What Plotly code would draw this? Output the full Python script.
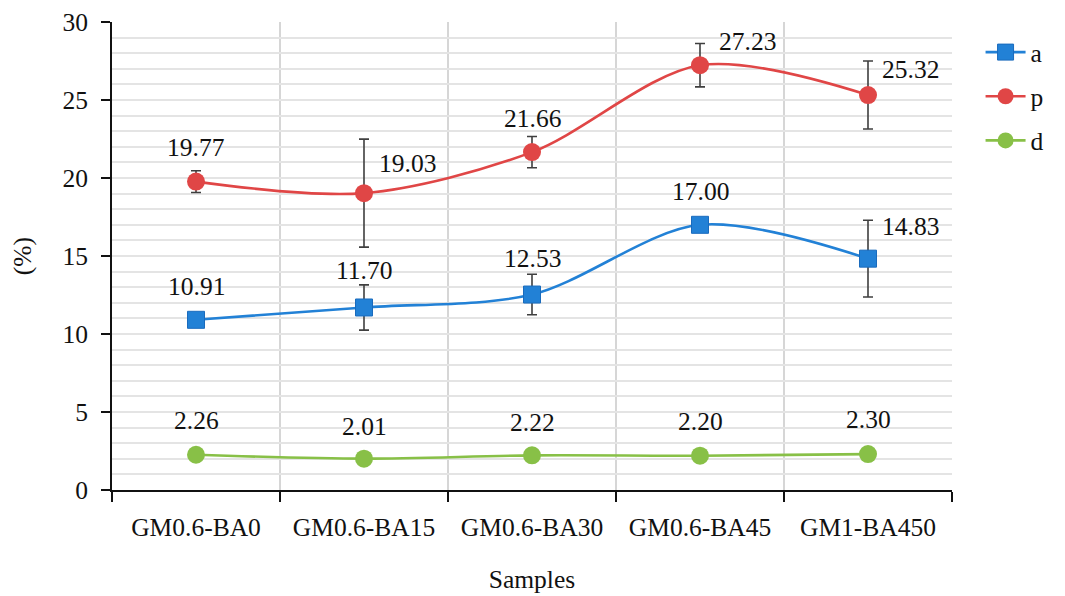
import plotly.graph_objects as go

categories = ["GM0.6-BA0", "GM0.6-BA15", "GM0.6-BA30", "GM0.6-BA45", "GM1-BA450"]
a_vals = [10.91, 11.70, 12.53, 17.00, 14.83]
a_err = [0.0, 1.45, 1.3, 0.0, 2.46]
p_vals = [19.77, 19.03, 21.66, 27.23, 25.32]
p_err = [0.7, 3.46, 1.0, 1.39, 2.18]
d_vals = [2.26, 2.01, 2.22, 2.20, 2.30]
y_ticks = [0, 5, 10, 15, 20, 25, 30]

FONT = "Liberation Serif, Tinos, Times New Roman, DejaVu Serif, serif"
BLUE = "#2281d6"
BLUE_EDGE = "#1a6bbd"
RED = "#e04646"
GREEN = "#88c047"
ERR = "#3f3f3f"
TXT = "#111111"
FS = 25.5

xs = list(range(len(categories)))

fig = go.Figure()

def add_series(name, vals, color, symbol, size, edge=None, err=None):
    kw = {}
    if err is not None:
        kw["error_y"] = dict(type="data", array=err, visible=True, color=ERR,
                             thickness=1.6, width=5)
    fig.add_trace(go.Scatter(
        x=xs, y=vals, name=name, legendgroup=name, mode="lines+markers",
        line=dict(color=color, width=2.6, shape="spline", smoothing=0.9),
        marker=dict(symbol=symbol, size=size, color=color,
                    line=dict(width=1 if edge else 0, color=edge or color)),
        **kw))

add_series("a", a_vals, BLUE, "square", 17, BLUE_EDGE, a_err)
add_series("p", p_vals, RED, "circle", 18, None, p_err)
add_series("d", d_vals, GREEN, "circle", 18)

# data labels: (xshift, yshift) per point
a_off = [(0, 33), (0, 37), (0, 36), (0, 33), (42, 32)]
p_off = [(0, 34), (43, 30), (0, 34), (47, 24), (42, 26)]
d_off = [(0, 34), (0, 32), (0, 33), (0, 34), (0, 35)]

for vals, offs in [(a_vals, a_off), (p_vals, p_off), (d_vals, d_off)]:
    for i, (v, (dx, dy)) in enumerate(zip(vals, offs)):
        fig.add_annotation(x=xs[i], y=v, text=f"{v:.2f}", showarrow=False,
                           xshift=dx, yshift=dy,
                           font=dict(family=FONT, size=FS, color=TXT))

boundaries = [i - 0.5 for i in range(len(categories) + 1)]

fig.update_layout(
    width=1065, height=596,
    margin=dict(l=104, r=121, t=14, b=114, autoexpand=False),
    paper_bgcolor="white", plot_bgcolor="white",
    font=dict(family=FONT, size=FS, color=TXT),
    showlegend=True,
    legend=dict(x=1.034, y=0.985, xanchor="left", yanchor="top",
                font=dict(family=FONT, size=FS, color=TXT),
                bgcolor="rgba(0,0,0,0)", tracegroupgap=8, itemwidth=40),
    xaxis=dict(
        range=[-0.5, 4.5], tickmode="array", tickvals=xs, ticktext=categories,
        ticks="outside", ticklen=13, tickcolor="rgba(0,0,0,0)",
        showgrid=False, zeroline=False, automargin=False,
        showline=True, linecolor=TXT, linewidth=2,
        minor=dict(tickmode="array", tickvals=boundaries, ticks="outside",
                   ticklen=10, tickwidth=2, tickcolor=TXT,
                   showgrid=True, gridcolor="#d6d6d6", gridwidth=1.5),
        title=dict(text="Samples", standoff=30,
                   font=dict(family=FONT, size=FS, color=TXT)),
        tickfont=dict(family=FONT, size=FS, color=TXT),
    ),
    yaxis=dict(
        range=[0, 30.001], tickmode="array", tickvals=y_ticks,
        ticks="outside", ticklen=9, tickwidth=2, tickcolor=TXT,
        ticklabelstandoff=8, automargin=False, ticklabeloverflow="allow",
        showgrid=True, gridcolor="#e4e4e4", gridwidth=2, zeroline=False,
        showline=True, linecolor=TXT, linewidth=2,
        minor=dict(dtick=1, showgrid=True, gridcolor="#e4e4e4", gridwidth=2),
        title=dict(text="(%)", standoff=24,
                   font=dict(family=FONT, size=FS, color=TXT)),
        tickfont=dict(family=FONT, size=FS, color=TXT),
    ),
)

fig.write_html("out.html")
